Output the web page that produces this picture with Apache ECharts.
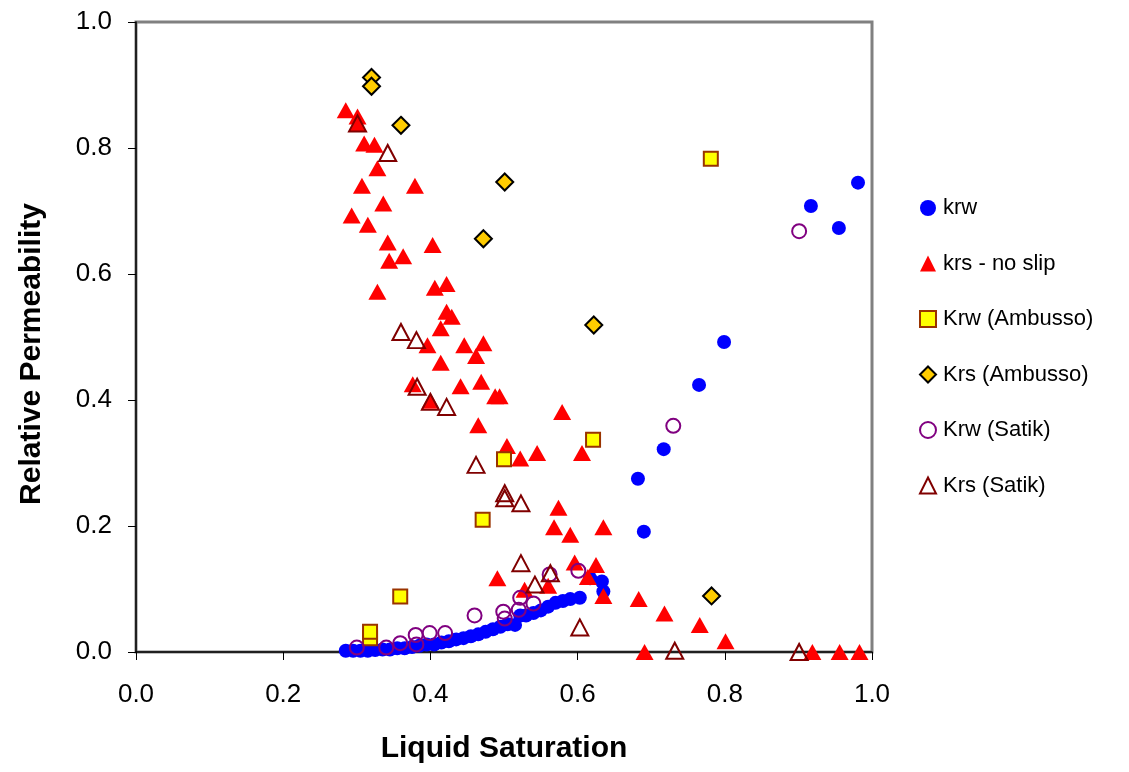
<!DOCTYPE html>
<html>
<head>
<meta charset="utf-8">
<script src="https://cdn.jsdelivr.net/npm/echarts@6/dist/echarts.min.js"></script>
<style>
html,body{margin:0;padding:0;background:#fff;}
#chart{width:1129px;height:772px;}
</style>
</head>
<body>
<div id="chart"></div>
<script>
var seriesNames = ['krw', 'krs - no slip', 'Krw (Ambusso)', 'Krs (Ambusso)', 'Krw (Satik)', 'Krs (Satik)'];
var xTicks = [0, 0.2, 0.4, 0.6, 0.8, 1.0];
var yTicks = [0, 0.2, 0.4, 0.6, 0.8, 1.0];

var krw = [
  [0.285,0.002],[0.295,0.002],[0.305,0.002],[0.315,0.002],[0.325,0.003],[0.335,0.004],[0.345,0.004],
  [0.355,0.006],[0.365,0.006],[0.375,0.008],[0.385,0.010],[0.395,0.012],[0.405,0.012],[0.415,0.015],
  [0.425,0.017],[0.435,0.020],[0.445,0.022],[0.455,0.025],[0.465,0.028],[0.475,0.032],[0.485,0.036],
  [0.495,0.040],[0.505,0.044],[0.515,0.043],[0.522,0.058],[0.530,0.058],[0.540,0.062],[0.550,0.066],
  [0.560,0.072],[0.570,0.078],[0.580,0.081],[0.590,0.084],[0.603,0.086],[0.617,0.117],[0.633,0.112],
  [0.635,0.096],[0.690,0.191],[0.682,0.275],[0.717,0.322],[0.765,0.424],[0.799,0.492],
  [0.917,0.708],[0.955,0.673],[0.981,0.745]
];
var krsNoSlip = [
  [0.285,0.860],[0.301,0.850],[0.301,0.838],[0.310,0.807],[0.324,0.805],[0.328,0.768],[0.307,0.740],
  [0.379,0.740],[0.336,0.712],[0.293,0.693],[0.315,0.678],[0.342,0.650],[0.403,0.646],[0.344,0.621],
  [0.363,0.628],[0.328,0.572],[0.406,0.578],[0.422,0.584],[0.422,0.540],[0.429,0.532],[0.414,0.514],
  [0.396,0.487],[0.446,0.487],[0.472,0.490],[0.462,0.470],[0.414,0.459],[0.376,0.425],[0.441,0.422],
  [0.469,0.429],[0.488,0.406],[0.494,0.406],[0.400,0.399],[0.465,0.360],[0.504,0.327],[0.522,0.307],
  [0.545,0.316],[0.579,0.381],[0.606,0.316],[0.574,0.229],[0.568,0.198],[0.590,0.186],[0.635,0.198],
  [0.596,0.142],[0.625,0.138],[0.614,0.119],[0.560,0.105],[0.528,0.099],[0.491,0.117],[0.635,0.089],
  [0.683,0.084],[0.718,0.061],[0.766,0.043],[0.801,0.017],[0.691,0.0],[0.919,0.0],[0.956,0.0],[0.983,0.0]
];
var krwAmbusso = [
  [0.318,0.022],[0.318,0.032],[0.359,0.088],[0.471,0.210],[0.500,0.306],[0.621,0.337],[0.781,0.783]
];
var krsAmbusso = [
  [0.320,0.912],[0.320,0.898],[0.360,0.836],[0.501,0.746],[0.472,0.656],[0.622,0.519],[0.782,0.089]
];
var krwSatik = [
  [0.300,0.007],[0.340,0.007],[0.359,0.014],[0.380,0.027],[0.381,0.012],[0.399,0.030],[0.420,0.030],
  [0.460,0.058],[0.499,0.064],[0.501,0.053],[0.522,0.086],[0.520,0.067],[0.540,0.077],[0.562,0.123],
  [0.601,0.129],[0.730,0.359],[0.901,0.668]
];
var krsSatik = [
  [0.301,0.839],[0.342,0.792],[0.360,0.508],[0.381,0.495],[0.382,0.421],[0.400,0.397],[0.422,0.389],
  [0.462,0.297],[0.501,0.252],[0.501,0.244],[0.523,0.236],[0.523,0.141],[0.542,0.107],[0.563,0.125],
  [0.603,0.039],[0.732,0.002],[0.901,0.0]
];

var chart = echarts.init(document.getElementById('chart'), null, {renderer: 'canvas'});
var font = 'Liberation Sans, Arial, sans-serif';
var option = {
  animation: false,
  backgroundColor: '#ffffff',
  grid: {left: 136, right: 257, top: 22, bottom: 120, show: true, borderColor: '#808080', borderWidth: 3, backgroundColor: 'transparent'},
  xAxis: {
    type: 'value', min: xTicks[0], max: xTicks[xTicks.length-1], interval: 0.2,
    name: 'Liquid Saturation', nameLocation: 'middle', nameGap: 82,
    nameTextStyle: {fontFamily: font, fontWeight: 'bold', fontSize: 30, color: '#000'},
    axisLine: {show: true, onZero: false, lineStyle: {color: '#000', width: 1.5}},
    axisTick: {show: true, inside: false, length: 8, lineStyle: {color: '#000'}},
    axisLabel: {fontFamily: font, fontSize: 26, color: '#000', margin: 30, formatter: function(v){return v.toFixed(1);}},
    splitLine: {show: false}
  },
  yAxis: {
    type: 'value', min: yTicks[0], max: yTicks[yTicks.length-1], interval: 0.2,
    name: 'Relative Permeability', nameLocation: 'middle', nameGap: 89, nameRotate: 90,
    nameTextStyle: {fontFamily: font, fontWeight: 'bold', fontSize: 30, color: '#000', padding: [0, 34, 0, 0]},
    axisLine: {show: true, onZero: false, lineStyle: {color: '#000', width: 1.5}},
    axisTick: {show: true, inside: false, length: 8, lineStyle: {color: '#000'}},
    axisLabel: {fontFamily: font, fontSize: 26, color: '#000', margin: 24, formatter: function(v){return v.toFixed(1);}},
    splitLine: {show: false}
  },
  legend: {
    orient: 'vertical', left: 914, top: 192, itemGap: 33.5, itemWidth: 16, itemHeight: 16,
    textStyle: {fontFamily: font, fontSize: 22, color: '#000', lineHeight: 22, padding: [0, 0, 0, 2]},
    data: seriesNames
  },
  series: [
    {name: seriesNames[0], type: 'scatter', data: krw, symbol: 'circle', symbolSize: 14,
     itemStyle: {color: '#0000FF', opacity: 1}},
    {name: seriesNames[1], type: 'scatter', data: krsNoSlip, symbol: 'triangle', symbolSize: [18, 16],
     itemStyle: {color: '#FF0000', opacity: 1}},
    {name: seriesNames[2], type: 'scatter', data: krwAmbusso, symbol: 'rect', symbolSize: 14,
     itemStyle: {color: '#FFFF00', borderColor: '#993300', borderWidth: 2, opacity: 1}},
    {name: seriesNames[3], type: 'scatter', data: krsAmbusso, symbol: 'diamond', symbolSize: 17,
     itemStyle: {color: '#FFCC00', borderColor: '#000000', borderWidth: 2, opacity: 1}},
    {name: seriesNames[4], type: 'scatter', data: krwSatik, symbol: 'circle', symbolSize: 14,
     itemStyle: {color: 'rgba(255,255,255,0)', borderColor: '#800080', borderWidth: 2, opacity: 1}},
    {name: seriesNames[5], type: 'scatter', data: krsSatik, symbol: 'triangle', symbolSize: [17, 16],
     itemStyle: {color: 'rgba(255,255,255,0)', borderColor: '#800000', borderWidth: 2, opacity: 1}}
  ]
};
chart.setOption(option);
</script>
</body>
</html>
